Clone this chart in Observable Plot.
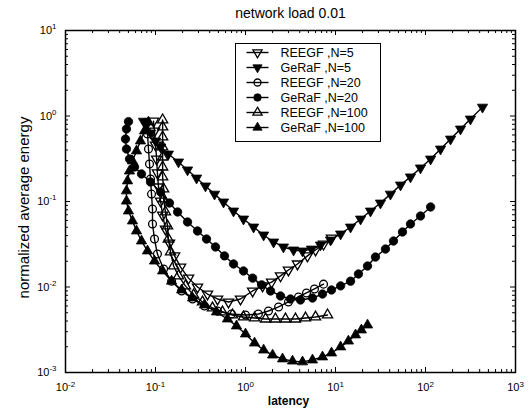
<!DOCTYPE html>
<html>
<head>
<meta charset="utf-8">
<script src="https://cdn.jsdelivr.net/npm/d3@7"></script>
<script src="https://cdn.jsdelivr.net/npm/@observablehq/plot@0.6"></script>
<style>
  html, body { margin: 0; padding: 0; background: #fff; }
</style>
</head>
<body>
<div id="chart"></div>
<script>
// ---------------- data ----------------
const title = "network load 0.01";
const xLabel = "latency";
const yLabel = "normalized average energy";
const seriesNames = ["REEGF ,N=5", "GeRaF ,N=5", "REEGF ,N=20", "GeRaF ,N=20", "REEGF ,N=100", "GeRaF ,N=100"];
const xTickValues = [0.01, 0.1, 1, 10, 100, 1000];
const yTickValues = [0.001, 0.01, 0.1, 1, 10];

const reegf5Latency = [0.095,0.0975,0.1,0.103,0.105,0.108,0.114,0.12,0.129,0.143,0.163,0.19,0.233,0.293,0.378,0.489,0.647,0.88,1.2,1.55,1.95,2.45,3.0,3.78,4.88,6.0,7.36,9.03];
const reegf5Energy  = [0.87,0.668,0.458,0.314,0.216,0.148,0.101,0.0695,0.0477,0.0327,0.0231,0.0171,0.0127,0.01,0.00828,0.00724,0.00668,0.00724,0.00898,0.0103,0.0114,0.0135,0.0158,0.0186,0.0231,0.0271,0.0318,0.0374];

const geraf5Latency = [0.0736,0.0794,0.088,0.1,0.114,0.139,0.18,0.227,0.286,0.359,0.453,0.57,0.736,0.95,1.23,1.59,2.05,2.64,3.42,4.3,5.41,6.81,8.8,11.4,14.7,19,24.5,31.6,40.8,52.8,68.1,88,114,147,190,245,316,430];
const geraf5Energy  = [0.87,0.785,0.633,0.51,0.434,0.359,0.29,0.234,0.188,0.152,0.122,0.0987,0.0774,0.0624,0.0503,0.0406,0.0336,0.0294,0.0271,0.0264,0.0278,0.031,0.0355,0.0417,0.0503,0.0624,0.0774,0.096,0.122,0.156,0.194,0.247,0.314,0.411,0.538,0.705,0.922,1.27];

const reegf20Latency = [0.0794,0.0815,0.0836,0.0858,0.088,0.0903,0.0926,0.0926,0.0975,0.105,0.123,0.151,0.195,0.258,0.35,0.489,0.699,1.0,1.39,1.8,2.33,3.0,3.88,4.76,5.84,7.36];
const reegf20Energy  = [0.84,0.616,0.411,0.275,0.183,0.122,0.0817,0.0546,0.0364,0.0243,0.0162,0.0117,0.00898,0.00724,0.00599,0.00524,0.00483,0.00471,0.00483,0.00524,0.00584,0.00668,0.00764,0.00851,0.00948,0.0108];

const geraf20Latency = [0.0501,0.0476,0.0464,0.0476,0.0514,0.0585,0.0699,0.088,0.114,0.143,0.176,0.227,0.293,0.369,0.464,0.584,0.736,0.95,1.2,1.51,1.9,2.45,3.16,4.08,5.55,7.17,9.03,11.4,14.7,18,22.7,27.8,35.9,44.1,55.5,68.1,88,114];
const geraf20Energy  = [0.86,0.705,0.538,0.411,0.314,0.253,0.21,0.169,0.129,0.096,0.0754,0.0576,0.0452,0.0364,0.0294,0.0231,0.0186,0.0154,0.0127,0.0106,0.00898,0.00785,0.00724,0.00705,0.00743,0.00828,0.00923,0.0103,0.0117,0.0142,0.0176,0.0224,0.0278,0.0345,0.044,0.0546,0.0677,0.0863];

const reegf100Latency = [0.12,0.12,0.12,0.12,0.12,0.12,0.12,0.123,0.123,0.129,0.136,0.139,0.147,0.159,0.18,0.215,0.265,0.333,0.43,0.555,0.717,0.95,1.26,1.67,2.15,2.78,3.59,4.64,6.0,8.15];
const reegf100Energy  = [0.9,0.744,0.568,0.434,0.331,0.253,0.194,0.14,0.107,0.0754,0.0517,0.0364,0.0257,0.0176,0.0135,0.0103,0.00806,0.00668,0.00568,0.0051,0.00471,0.00446,0.00434,0.00422,0.00422,0.00422,0.00422,0.00434,0.00446,0.00471];

const geraf100Latency = [0.0836,0.0755,0.0681,0.0615,0.0555,0.0514,0.0489,0.0476,0.0476,0.0501,0.0555,0.0615,0.0699,0.0815,0.0975,0.12,0.151,0.195,0.258,0.35,0.476,0.631,0.794,1.0,1.26,1.59,2.0,2.58,3.33,4.3,5.55,7.17,9.03,11.4,13.9,16.7,19.4,22.7];
const geraf100Energy  = [0.85,0.668,0.51,0.39,0.298,0.227,0.174,0.133,0.101,0.0774,0.0591,0.0452,0.0345,0.0264,0.0201,0.0154,0.0117,0.00923,0.00743,0.00616,0.0051,0.00422,0.0035,0.00282,0.00221,0.00183,0.0016,0.00144,0.00136,0.00133,0.0014,0.00152,0.00169,0.00199,0.00233,0.00275,0.00314,0.00359];

// ---------------- styles ----------------
const seriesData = [
  [reegf5Latency, reegf5Energy],
  [geraf5Latency, geraf5Energy],
  [reegf20Latency, reegf20Energy],
  [geraf20Latency, geraf20Energy],
  [reegf100Latency, reegf100Energy],
  [geraf100Latency, geraf100Energy]
];
const markerStyles = [
  {symbol: "triangle", rotate: 180, fill: "none", r: 3.8},
  {symbol: "triangle", rotate: 180, fill: "black", r: 3.8},
  {symbol: "circle", rotate: 0, fill: "none", r: 3.9},
  {symbol: "circle", rotate: 0, fill: "black", r: 4.2},
  {symbol: "triangle", rotate: 0, fill: "none", r: 3.8},
  {symbol: "triangle", rotate: 0, fill: "black", r: 3.8}
];

const W = 530, H = 415;
const mTop = 30, mRight = 15, mBottom = 43, mLeft = 65;
const frameW = W - mLeft - mRight;
const frameH = H - mTop - mBottom;

const isPow10 = t => Math.abs(Math.log10(t) - Math.round(Math.log10(t))) < 1e-6;
const minorX = d3.scaleLog().domain([xTickValues[0], xTickValues[xTickValues.length - 1]]).ticks().filter(t => !isPow10(t));
const minorY = d3.scaleLog().domain([yTickValues[0], yTickValues[yTickValues.length - 1]]).ticks().filter(t => !isPow10(t));
const fmt = d => "10^" + Math.round(Math.log10(d));

const legendLine = {draw(ctx) { ctx.moveTo(-11, 0); ctx.lineTo(11, 0); }};

const marks = [];
// inward ticks on all four sides
marks.push(
  Plot.ruleX(xTickValues, {insetTop: frameH - 5, stroke: "black"}),
  Plot.ruleX(xTickValues, {insetBottom: frameH - 5, stroke: "black"}),
  Plot.ruleX(minorX, {insetTop: frameH - 3, stroke: "black"}),
  Plot.ruleX(minorX, {insetBottom: frameH - 3, stroke: "black"}),
  Plot.ruleY(yTickValues, {insetRight: frameW - 5, stroke: "black"}),
  Plot.ruleY(yTickValues, {insetLeft: frameW - 5, stroke: "black"}),
  Plot.ruleY(minorY, {insetRight: frameW - 3, stroke: "black"}),
  Plot.ruleY(minorY, {insetLeft: frameW - 3, stroke: "black"})
);
marks.push(
  Plot.axisX({ticks: xTickValues, tickSize: 0, tickPadding: 11, tickFormat: fmt, label: null, fontSize: 11}),
  Plot.axisY({ticks: yTickValues, tickSize: 0, tickPadding: 9, tickFormat: fmt, label: null, fontSize: 11})
);
// series
seriesData.forEach(([lx, ly], i) => {
  const st = markerStyles[i];
  marks.push(Plot.line(lx, {x: lx, y: ly, stroke: "black", strokeWidth: 1.4}));
  marks.push(Plot.dot(lx, {x: lx, y: ly, symbol: st.symbol, rotate: st.rotate, r: st.r, fill: st.fill, stroke: "black", strokeWidth: st.fill === "none" ? 1.3 : 0.8}));
});
// legend
marks.push(Plot.frame({insetLeft: 170, insetRight: 135, insetTop: 13, insetBottom: 231, fill: "white", stroke: "black", strokeWidth: 1}));
seriesNames.forEach((name, i) => {
  const st = markerStyles[i];
  const dy = 22 + 15 * i;
  marks.push(Plot.dot([null], {frameAnchor: "top-left", dx: 192, dy, symbol: legendLine, stroke: "black", strokeWidth: 1.4, fill: "none"}));
  marks.push(Plot.dot([null], {frameAnchor: "top-left", dx: 192, dy, symbol: st.symbol, rotate: st.rotate, r: st.r * 0.9, fill: st.fill, stroke: "black", strokeWidth: st.fill === "none" ? 1.3 : 0.8}));
  marks.push(Plot.text([name], {frameAnchor: "top-left", dx: 215, dy, textAnchor: "start", lineAnchor: "middle", fontSize: 12.5}));
});
marks.push(Plot.frame({stroke: "black", strokeWidth: 1.5}));
// titles
marks.push(Plot.text([title], {frameAnchor: "top", dy: -17, textAnchor: "middle", lineAnchor: "middle", fontSize: 14}));
marks.push(Plot.text([xLabel], {frameAnchor: "bottom", dy: 29, dx: -2, textAnchor: "middle", lineAnchor: "middle", fontSize: 12, fontWeight: "bold"}));
marks.push(Plot.text([yLabel], {frameAnchor: "left", dx: -41, dy: 6, rotate: -90, textAnchor: "middle", lineAnchor: "middle", fontSize: 15}));

const chart = Plot.plot({
  width: W, height: H,
  marginTop: mTop, marginRight: mRight, marginBottom: mBottom, marginLeft: mLeft,
  x: {type: "log", domain: [xTickValues[0], xTickValues[xTickValues.length - 1]]},
  y: {type: "log", domain: [yTickValues[0], yTickValues[yTickValues.length - 1]]},
  style: {fontFamily: "'Liberation Sans', Arial, sans-serif", fontSize: "11px", background: "white", color: "black"},
  marks
});

// superscript exponents on tick labels
d3.select(chart).selectAll('g[aria-label$="tick label"] text').each(function () {
  const m = this.textContent.match(/^10\^(.+)$/);
  if (!m) return;
  this.textContent = "10";
  d3.select(this).append("tspan").attr("dy", "-0.6em").attr("font-size", "0.72em").text(m[1]);
});

document.getElementById("chart").appendChild(chart);
</script>
</body>
</html>
